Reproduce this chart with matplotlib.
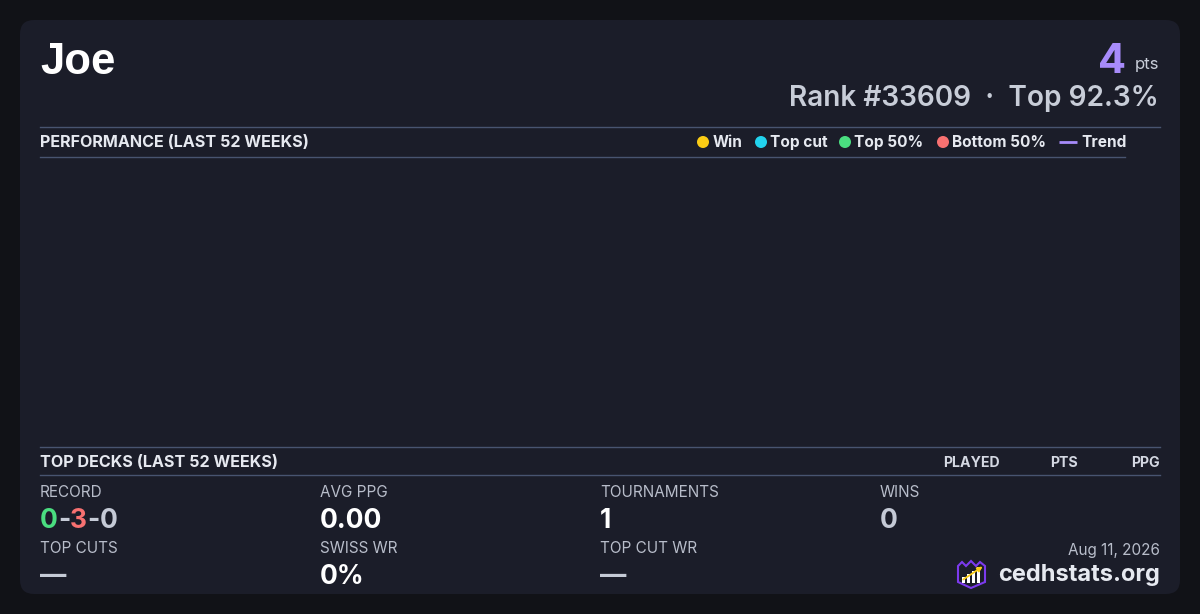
import matplotlib
matplotlib.use("Agg")
import matplotlib.pyplot as plt
from matplotlib.patches import FancyBboxPatch, Circle, Polygon, Rectangle

plt.rcParams['font.family'] = ['Inter', 'DejaVu Sans']

# player header
player = "Joe"
points = 4
rank = 33609
top_pct = 92.3

# performance chart (last 52 weeks) - no events to plot
weeks = []
week_points = []
week_result = []
legend_labels = ["Win", "Top cut", "Top 50%", "Bottom 50%", "Trend"]
legend_colors = ["#facc15", "#22d3ee", "#4ade80", "#f87171", "#a78bfa"]

# top decks table
deck_columns = ["PLAYED", "PTS", "PPG"]

# stat blocks
record = [0, 3, 0]
stat_labels = ["RECORD", "AVG PPG", "TOURNAMENTS", "WINS",
               "TOP CUTS", "SWISS WR", "TOP CUT WR"]
stat_values = [None, "0.00", "1", "0", "\u2014", "0%", "\u2014"]
date_str = "Aug 11, 2026"
site = "cedhstats.org"

BG = "#111217"
CARD = "#1b1d29"
LINE = "#485470"
TXT = "#e6e9f0"
MUTED = "#b8bdca"

fig = plt.figure(figsize=(12, 6.14), dpi=100, facecolor=BG)
ax = fig.add_axes([0, 0, 1, 1])
ax.set_xlim(0, 1200)
ax.set_ylim(614, 0)
ax.axis('off')

ax.add_patch(FancyBboxPatch((20, 20), 1160, 574, boxstyle="round,pad=0,rounding_size=14",
                            fc=CARD, ec='none'))

# header
ax.text(40, 74, player, fontsize=31.5, fontweight='bold', color='white',
        family=['Liberation Sans', 'DejaVu Sans'], va='baseline', ha='left')
ax.text(1159, 69, "pts", fontsize=12, color="#c9ced9", va='baseline', ha='right')
ax.text(1126, 73, str(points), fontsize=30, fontweight='bold', color="#a78bfa",
        va='baseline', ha='right')
ax.text(1159, 106, "Rank #%d  \u00b7  Top %.1f%%" % (rank, top_pct), fontsize=20.2,
        fontweight='semibold', color="#c8cdd8", va='baseline', ha='right')

# performance section
ax.plot([40, 1160], [126.5, 126.5], color=LINE, lw=1)
ax.plot([40, 1125], [156.5, 156.5], color=LINE, lw=1)
ax.text(40, 147, "PERFORMANCE (LAST 52 WEEKS)", fontsize=11.6, fontweight='bold',
        color=TXT, va='baseline', ha='left')

legend_x = [703, 761, 845, 943, 1059]
for lx, lab, col in zip(legend_x, legend_labels, legend_colors):
    if lab == "Trend":
        ax.plot([lx, lx + 18], [142, 142], color=col, lw=2, solid_capstyle='butt')
        tx = lx + 22
    else:
        ax.add_patch(Circle((lx, 142), 6, fc=col, ec='none'))
        tx = lx + 9.5
    ax.text(tx, 147, lab, fontsize=11.1, fontweight='bold', color=TXT,
            va='baseline', ha='left')

chart = fig.add_axes([40 / 1200, 1 - 440 / 614, 1085 / 1200, 280 / 614])
chart.set_facecolor(CARD)
chart.scatter(weeks, week_points, c=week_result)
chart.plot(weeks, week_points, color=legend_colors[-1])
chart.set_xlim(0, 52)
chart.axis('off')

# top decks
ax.plot([40, 1160], [446.5, 446.5], color=LINE, lw=1)
ax.plot([40, 1160], [474.5, 474.5], color=LINE, lw=1)
ax.text(40, 467, "TOP DECKS (LAST 52 WEEKS)", fontsize=11.6, fontweight='bold',
        color=TXT, va='baseline', ha='left')
for cx, name in zip([1000, 1078, 1160], deck_columns):
    ax.text(cx, 467, name, fontsize=10.2, fontweight='bold', color="#d4d8e2",
            va='baseline', ha='right')

# stats grid
col_x = [40, 320, 600, 880]
for i, (lab, val) in enumerate(zip(stat_labels, stat_values)):
    x = col_x[i % 4]
    row = i // 4
    ly = 497 + row * 56
    vy = 528 + row * 56
    ax.text(x, ly, lab, fontsize=11, color=MUTED, va='baseline', ha='left')
    if val is None:
        t = ax.text(x, vy, str(record[0]), fontsize=19, fontweight='bold',
                    color="#4ade80", va='baseline', ha='left')
        parts = [("-", "#c5cad6"), (str(record[1]), "#f87171"),
                 ("-", "#c5cad6"), (str(record[2]), "#c5cad6")]
        for s, c in parts:
            t = ax.annotate(s, xy=(1, 0), xycoords=t, xytext=(0, 0),
                            textcoords='offset points', fontsize=19,
                            fontweight='bold', color=c, va='bottom', ha='left')
    else:
        color = "#c5cad6" if val in ("0", "\u2014") else "white"
        ax.text(x, vy, val, fontsize=19, fontweight='bold', color=color,
                va='baseline', ha='left')

# footer
ax.text(1160, 555, date_str, fontsize=11, color=MUTED, va='baseline', ha='right')
ax.text(1160, 581, site, fontsize=17, fontweight='bold', color=TXT,
        va='baseline', ha='right')

# logo: shield with bars and arrow
ax.add_patch(Polygon([[958, 566], [962, 562], [966, 566], [971, 561], [976, 566],
                      [980, 562], [985, 566], [985, 582], [971, 588], [958, 582]],
                     closed=True, fc="#1b1d29", ec="#7c3aed", lw=1.5))
for bx, bh in zip([962, 967, 972, 977], [6, 9, 12, 16]):
    ax.add_patch(Rectangle((bx, 583 - bh), 3.2, bh, fc='white', ec='none'))
ax.annotate("", xy=(985, 565), xytext=(961, 581),
            arrowprops=dict(arrowstyle='-|>', color="#facc15", lw=1.3,
                            mutation_scale=7))

fig.savefig("out.png", dpi=100, facecolor=BG)
